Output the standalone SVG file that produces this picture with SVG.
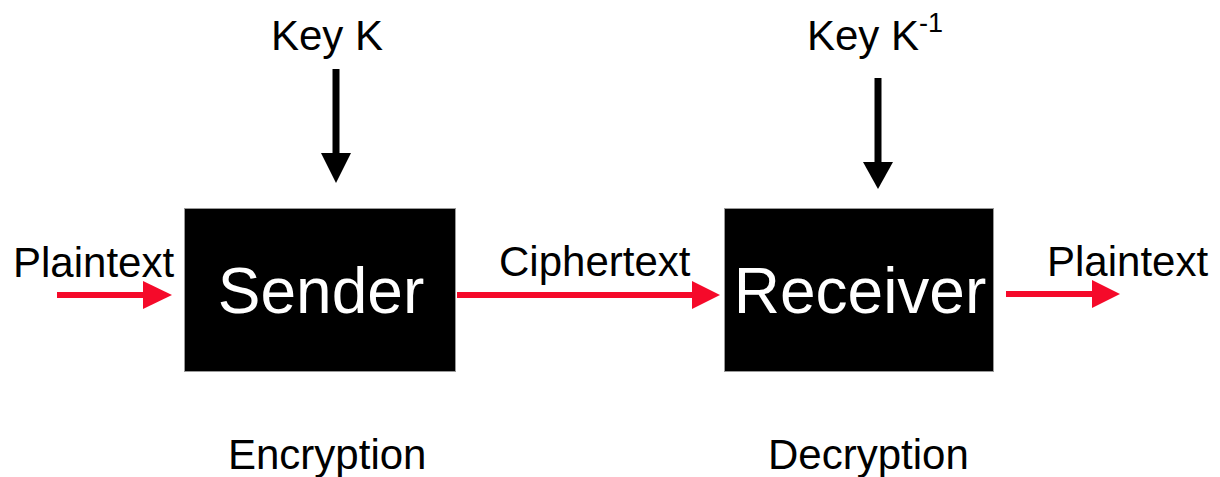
<svg xmlns="http://www.w3.org/2000/svg" width="1220" height="477" viewBox="0 0 1220 477">
<style>
.t{font-family:"Liberation Sans",Arial,sans-serif;font-size:42px;fill:#000}
.big{font-family:"Liberation Sans",Arial,sans-serif;font-size:64px;fill:#fff}
.box{fill:#000;stroke:#999;stroke-width:1}
.red{stroke:#f50a2a;stroke-width:6;fill:none}
.blk{stroke:#000;stroke-width:7;fill:none}
</style>
<rect width="1220" height="477" fill="#fff"/>
<g id="sender">
<rect class="box" x="184.5" y="208.5" width="271" height="163"/>
<text class="big" x="321" y="313" text-anchor="middle">Sender</text>
</g>
<g id="receiver">
<rect class="box" x="724.5" y="208.5" width="269" height="163"/>
<text class="big" x="860" y="313" text-anchor="middle">Receiver</text>
</g>
<g id="key-k"><text class="t" x="271" y="50">Key K</text></g>
<g id="key-k-inv"><text class="t" x="807" y="50">Key K<tspan font-size="27" dy="-18">-1</tspan></text></g>
<g id="plaintext-in"><text class="t" x="13" y="277">Plaintext</text></g>
<g id="plaintext-out"><text class="t" x="1047" y="276">Plaintext</text></g>
<g id="labels">
<text class="t" x="499" y="276">Ciphertext</text>
<text class="t" x="228" y="469">Encryption</text>
<text class="t" x="768" y="469">Decryption</text>
</g>
<g id="connectors">
<line class="red" x1="57" y1="295" x2="144" y2="295"/>
<polygon fill="#f50a2a" points="143,281 172,295 143,309"/>
<line class="red" x1="457" y1="295" x2="693" y2="295"/>
<polygon fill="#f50a2a" points="692,281 720,295 692,309"/>
<line class="red" x1="1006" y1="294" x2="1093" y2="294"/>
<polygon fill="#f50a2a" points="1092,280 1120,294 1092,308"/>
<line class="blk" x1="336" y1="69" x2="336" y2="154"/>
<polygon fill="#000" points="321,153 351,153 336,183"/>
<line class="blk" x1="878" y1="78" x2="878" y2="163"/>
<polygon fill="#000" points="863,162 893,162 878,189"/>
</g>
</svg>
